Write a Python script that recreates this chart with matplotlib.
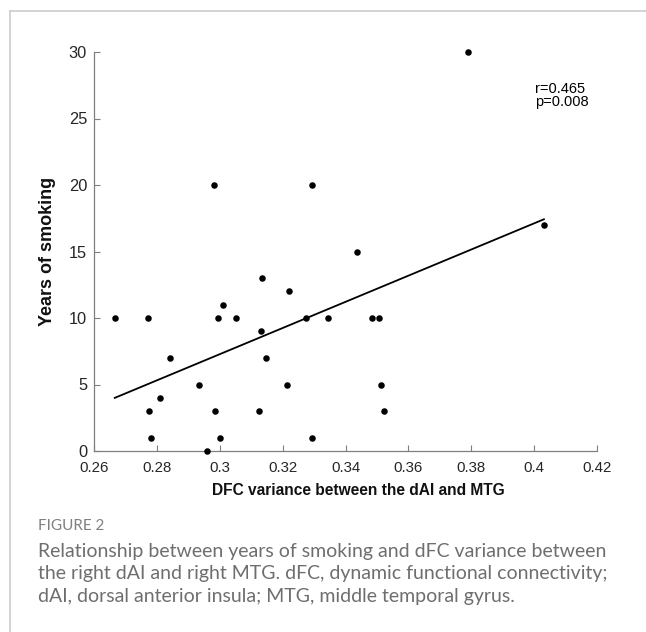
from matplotlib import pyplot as plt
from matplotlib.lines import Line2D
import numpy as np

# dFC variance (x) and years of smoking (y)
dfc_var = [0.2666, 0.2773, 0.2775, 0.2781, 0.2810, 0.2842, 0.2934, 0.2958,
           0.2981, 0.2984, 0.2993, 0.3002, 0.3011, 0.3051, 0.3124, 0.3130,
           0.3133, 0.3146, 0.3215, 0.3220, 0.3273, 0.3294, 0.3294, 0.3344,
           0.3437, 0.3483, 0.3506, 0.3514, 0.3522, 0.3789, 0.4031]
years = [10, 10, 3, 1, 4, 7, 5, 0,
         20, 3, 10, 1, 11, 10, 3, 9,
         13, 7, 5, 12, 10, 20, 1, 10,
         15, 10, 10, 5, 3, 30, 17]

x_ticks = [0.26, 0.28, 0.3, 0.32, 0.34, 0.36, 0.38, 0.4, 0.42]
x_ticklabels = ['0.26', '0.28', '0.3', '0.32', '0.34', '0.36', '0.38', '0.4', '0.42']
y_ticks = [0, 5, 10, 15, 20, 25, 30]
stats_text = 'r=0.465\np=0.008'

plt.rcParams['font.family'] = ['Liberation Sans', 'DejaVu Sans']

fig = plt.figure(figsize=(6.46, 6.32), dpi=100)
ax = fig.add_axes([94/646, 1-451/632, (597-94)/646, (451-52)/632])

x = np.array(dfc_var)
y = np.array(years)
ax.scatter(x, y, s=22, color='black', zorder=3, linewidths=0, clip_on=False)

# least squares line over the data range
slope, icpt = np.polyfit(x, y, 1)
xl = np.array([x.min(), x.max()])
ax.plot(xl, slope*xl + icpt, color='black', lw=1.3)

ax.text(0.4003, 27.75, stats_text, fontsize=10.5, va='top', ha='left',
        linespacing=0.95)

ax.set_xlim(0.26, 0.42)
ax.set_ylim(0, 30)
ax.set_xticks(x_ticks)
ax.set_xticklabels(x_ticklabels)
ax.set_yticks(y_ticks)
for s in ['top', 'right']:
    ax.spines[s].set_visible(False)
for s in ['left', 'bottom']:
    ax.spines[s].set_color('#7f7f7f')
    ax.spines[s].set_linewidth(0.9)
ax.tick_params(direction='in', length=4, width=0.8, color='#7f7f7f',
               labelcolor='#262626')
ax.tick_params(axis='x', labelsize=10.8, pad=7)
ax.tick_params(axis='y', labelsize=11.8, pad=5)
ax.set_xlabel('DFC variance between the dAI and MTG', fontsize=11.2,
              fontweight='bold', color='#111111')
ax.xaxis.set_label_coords(0.525, -0.08)
ax.set_ylabel('Years of smoking', fontsize=13, fontweight='bold',
              color='#111111')
ax.yaxis.set_label_coords(-0.076, 0.5)

# panel border (light gray, top and left)
fig.add_artist(Line2D([10/646, 1], [1-11/632, 1-11/632], color='#cccccc', lw=1.2))
fig.add_artist(Line2D([10/646, 10/646], [0, 1-11/632], color='#cccccc', lw=1.2))

# caption
fig.text(38/646, 1-526/632, 'FIGURE 2', fontsize=11, color='#808080',
         family='Lato', va='center')
caption = ('Relationship between years of smoking and dFC variance between\n'
           'the right dAI and right MTG. dFC, dynamic functional connectivity;\n'
           'dAI, dorsal anterior insula; MTG, middle temporal gyrus.')
fig.text(38/646, 1-574/632, caption, fontsize=14, color='#6e6e6e',
         family='Lato', va='center', linespacing=1.4)

fig.savefig('out.png', dpi=100)
